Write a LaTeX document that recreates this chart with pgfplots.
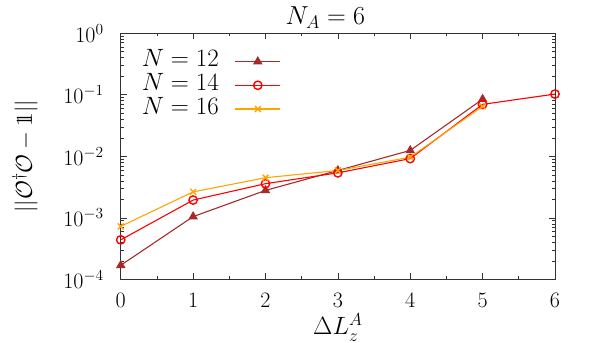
\RequirePackage{fix-cm}
\documentclass[border=0pt]{standalone}
\usepackage{pgfplots}
\pgfplotsset{compat=1.18}
\definecolor{cbrown}{RGB}{165,42,42}
\definecolor{cred}{RGB}{255,0,0}
\definecolor{corange}{RGB}{255,165,0}
\begin{document}
\begin{tikzpicture}
\begin{axis}[
  scale only axis,
  width=434pt, height=246pt,
  ymode=log,
  xmin=0, xmax=6, ymin=1e-4, ymax=1,
  xtick={0,1,2,3,4,5,6},
  ytick={1e-4,1e-3,1e-2,1e-1,1},
  minor x tick num=1,
  tick align=inside,
  major tick length=6pt,
  minor tick length=3pt,
  xtick pos=both, ytick pos=both,
  axis line style={line width=0.9pt, black!80},
  every tick/.style={black!80, line width=0.7pt},
  tick label style={font=\fontsize{22}{26}\selectfont},
  xticklabel style={anchor=base, yshift=-28.5pt, inner sep=0pt},
  yticklabel style={anchor=east, xshift=-17pt, inner sep=0pt},
  every axis y label/.style={at={(axis description cs:0,0.5)}, xshift=-95.7pt, rotate=90, anchor=center, font=\fontsize{23}{27}\selectfont},
  every axis x label/.style={at={(axis description cs:0.5,0)}, anchor=base, yshift=-55.5pt, inner sep=1pt, font=\fontsize{25}{30}\selectfont},
  every axis title/.style={at={(axis description cs:0.5,1)}, anchor=base, xshift=-12.5pt, yshift=9pt, font=\fontsize{26}{30}\selectfont},
  title={$N_A=6$},
  xlabel={$\Delta L_z^A$},
  ylabel={$||\mathcal{O}^\dagger\mathcal{O}-\mathrm{1\!\!1}||$},
  legend style={at={(axis description cs:0,1)}, anchor=north west, xshift=21pt, yshift=-16.4pt, draw=none, fill=none, inner sep=0pt, outer sep=0pt,
    font=\fontsize{25}{29}\selectfont, row sep=0pt,
    nodes={inner sep=0pt, text height=17pt, text depth=6.7pt},
    /tikz/every odd column/.append style={column sep=15.7pt}},
  legend plot pos=right,
  legend cell align=left,
  legend image code/.code={\draw[mark repeat=2,mark phase=2, line width=1.5pt] plot coordinates {(0pt,0pt) (22.5pt,0pt) (45pt,0pt)};},
]
\addplot[cbrown, line width=1.1pt, mark=triangle*, mark size=4.7pt, mark options={solid, line width=0.8pt}] coordinates {
(0,1.7e-4) (1,1.05e-3) (2,2.8e-3) (3,5.9e-3) (4,1.25e-2) (5,8.5e-2)};
\addlegendentry{$N=12$}
\addplot[cred, line width=1.1pt, mark=o, mark size=4.2pt, mark options={solid, line width=1.4pt}] coordinates {
(0,4.4e-4) (1,1.95e-3) (2,3.6e-3) (3,5.4e-3) (4,9.2e-3) (5,7.0e-2) (6,1.03e-1)};
\addlegendentry{$N=14$}
\addplot[corange, line width=1.1pt, mark=x, mark size=4.2pt, mark options={solid, line width=1.4pt}] coordinates {
(0,7.3e-4) (1,2.65e-3) (2,4.5e-3) (3,5.9e-3) (4,9.7e-3) (5,6.5e-2)};
\addlegendentry{$N=16$}
\end{axis}
\useasboundingbox ([shift={(-120.7pt,-62.7pt)}]current axis.south west) rectangle ([shift={(43pt,33.3pt)}]current axis.north east);
\end{tikzpicture}
\end{document}
